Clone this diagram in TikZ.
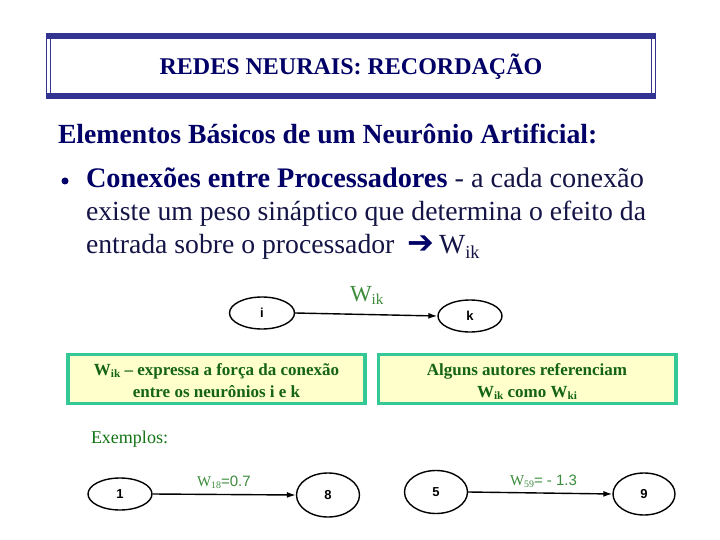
\documentclass[tikz,border=0pt]{standalone}
\usepackage{fontspec}
\setmainfont{Liberation Serif}
\newfontfamily\arialf{Liberation Sans}
\newfontfamily\dejavu{DejaVu Sans}
\usetikzlibrary{shapes.geometric,arrows.meta}
\definecolor{framenavy}{RGB}{51,51,145}
\definecolor{headnavy}{RGB}{0,0,102}
\definecolor{bodynavy}{RGB}{20,20,70}
\definecolor{edgegreen}{RGB}{60,140,60}
\definecolor{boxgreen}{RGB}{20,100,20}
\definecolor{boxborder}{RGB}{51,200,150}
\definecolor{boxfill}{RGB}{255,255,204}
\newcommand\sbx[1]{\raisebox{-0.35ex}{\scalebox{0.66}{#1}}}
\newcommand\fsz[1]{\fontsize{#1bp}{1.2\dimexpr#1bp\relax}\selectfont}
\tikzset{
  txt/.style={inner sep=0pt, outer sep=0pt},
  neuron/.style={ellipse, draw=black, line width=1.4bp, inner sep=0pt, font=\arialf\bfseries\fsz{13}},
  conn/.style={line width=1.4bp, -{Latex[length=9bp,width=6bp]}},
  wbox/.style={draw=boxborder, line width=3.5bp, fill=boxfill},
  elabel/.style={txt, text=edgegreen},
  boxtxt/.style={txt, text=boxgreen, font=\bfseries\fsz{17}},
}
\begin{document}
\begin{tikzpicture}[x=1bp,y=-1bp]
\useasboundingbox[fill=white] (0,0) rectangle (720,540);
% title frame
\fill[framenavy] (46,33) rectangle (656,39);
\fill[framenavy] (46,93) rectangle (656,99);
\draw[framenavy, line width=1bp] (46.5,33) -- (46.5,99);
\draw[framenavy, line width=1bp] (50.5,39) -- (50.5,93);
\draw[framenavy, line width=1bp] (655.5,33) -- (655.5,99);
\draw[framenavy, line width=1bp] (651.5,39) -- (651.5,93);
\node[txt, anchor=base, text=headnavy, font=\bfseries\fsz{24}] (title) at (351,75) {REDES NEURAIS: RECORDAÇÃO};
% heading and bullet text
\node[txt, anchor=base west, text=headnavy, font=\bfseries\fsz{27.7}] (h1) at (58,144) {Elementos Básicos de um Neurônio Artificial:};
\node[circle, fill=headnavy, inner sep=0pt, minimum size=7bp] (bul) at (65,181) {};
\node[txt, anchor=base west, text=bodynavy, font=\fsz{28.3}] (l2) at (86,188) {\textcolor{headnavy}{\bfseries Conexões entre Processadores} - a cada conexão};
\node[txt, anchor=base west, text=bodynavy, font=\fsz{27.7}] (l3) at (86,221) {existe um peso sináptico que determina o efeito da};
\node[txt, anchor=base west, text=bodynavy, font=\fsz{27.7}] (l4) at (86,254) {entrada sobre o processador\hspace{13bp}\textcolor{headnavy}{\dejavu\bfseries\fsz{32}➔}\hspace{5bp}W\sbx{ik}};
% i -> k
\node[neuron, minimum width=65bp, minimum height=32bp] (i) at (262,313) {i};
\node[neuron, minimum width=64bp, minimum height=32bp] (k) at (470,316) {k};
\draw[conn] (i.east) -- (k.west);
\node[elabel, anchor=base west, font=\fsz{23}] (wik) at (350,301) {W\sbx{ik}};
% boxes
\draw[wbox] (68,354.5) rectangle (365,403.5);
\draw[wbox] (378.5,354.5) rectangle (676,403.5);
\node[boxtxt, anchor=base] (b1a) at (216.5,375) {W\sbx{ik} – expressa a força da conexão};
\node[boxtxt, anchor=base] (b1b) at (216.5,397) {entre os neurônios i e k};
\node[boxtxt, anchor=base] (b2a) at (527,375) {Alguns autores referenciam};
\node[boxtxt, anchor=base] (b2b) at (527,397) {W\sbx{ik} como W\sbx{ki}};
% examples
\node[txt, anchor=base west, text=boxgreen!90!green, font=\fsz{18}] (ex) at (91,443) {Exemplos:};
\node[neuron, minimum width=64bp, minimum height=32bp] (n1) at (120,494) {1};
\node[neuron, minimum width=63bp, minimum height=44bp] (n8) at (328,495) {8};
\node[neuron, minimum width=63bp, minimum height=43bp] (n5) at (436,492) {5};
\node[neuron, minimum width=62bp, minimum height=42bp] (n9) at (644,494) {9};
\draw[conn] (n1.east) -- (n8.west);
\draw[conn] (n5.east) -- (n9.west);
\node[elabel, anchor=base west, font=\fsz{15}] (w18) at (197,486) {W\sbx{18}{\arialf=0.7}};
\node[elabel, anchor=base west, font=\fsz{15}] (w59) at (510,485) {W\sbx{59}{\arialf= - 1.3}};
\end{tikzpicture}
\end{document}
